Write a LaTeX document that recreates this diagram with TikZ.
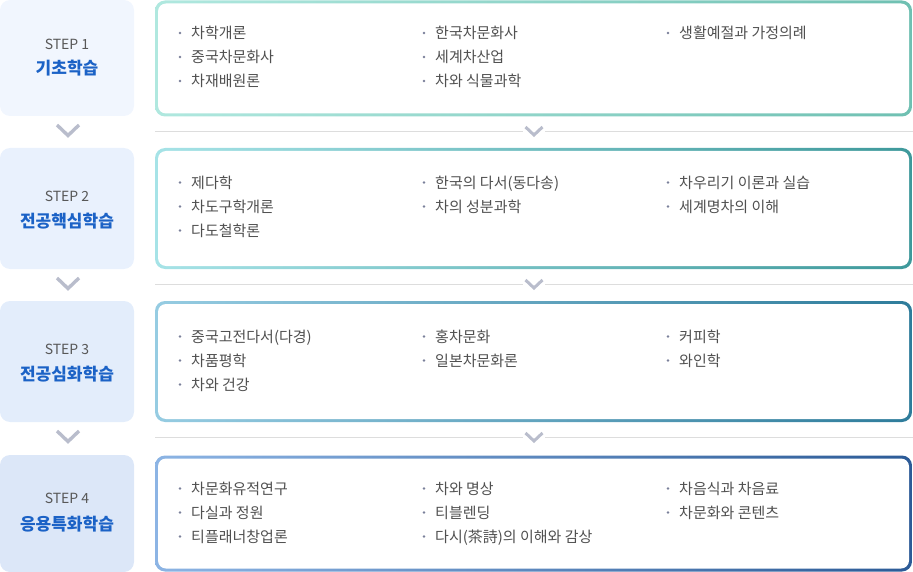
\documentclass[tikz,border=0pt]{standalone}
\usepackage{fontspec}
\setmainfont{Noto Sans CJK KR}
\definecolor{txt}{HTML}{505050}
\definecolor{steptxt}{HTML}{585858}
\definecolor{titleblue}{HTML}{1B62C6}
\definecolor{dotc}{HTML}{7A809A}
\definecolor{chevc}{HTML}{B9BDCC}
\definecolor{sepc}{HTML}{DDDDDD}
\definecolor{sfa}{HTML}{F1F6FE}
\definecolor{sfb}{HTML}{E9F1FD}
\definecolor{sfc}{HTML}{E3EDFB}
\definecolor{sfd}{HTML}{DCE7F8}
\definecolor{bal}{HTML}{B0E8DF}\definecolor{bar}{HTML}{6FC0B2}
\definecolor{bbl}{HTML}{A6E3E7}\definecolor{bbr}{HTML}{3E999B}
\definecolor{bcl}{HTML}{96CCE2}\definecolor{bcr}{HTML}{2E7C9B}
\definecolor{bdl}{HTML}{8CB4E4}\definecolor{bdr}{HTML}{2C5B97}
\begin{document}
\begin{tikzpicture}[x=1pt,y=-1pt,
  stepbox/.style={rounded corners=10pt, minimum width=134pt, inner sep=0pt, draw=none},
  outerbox/.style={rounded corners=10pt, minimum width=757pt, inner sep=0pt, draw=none},
  innerbox/.style={rounded corners=8pt, fill=white, minimum width=751pt, inner sep=0pt, draw=none},
  steplbl/.style={font=\fontsize{14}{16}\selectfont, text=steptxt, anchor=center},
  titlelbl/.style={font=\fontsize{17}{19}\selectfont\bfseries, text=titleblue, anchor=center},
  item/.style={font=\fontsize{15}{17}\selectfont, text=txt, anchor=base west, inner sep=0pt},
  bul/.style={circle, fill=dotc, inner sep=0pt, minimum size=2.6pt},
  chev/.style={draw=chevc, line width=3.4pt, line cap=butt, line join=miter},
  chevs/.style={draw=chevc, line width=3pt, line cap=butt, line join=miter},
  sep/.style={draw=sepc, line width=1pt}
]
\useasboundingbox (0,0) rectangle (913,572);

% ---------- left step boxes ----------
\node[stepbox, fill=sfa, minimum height=116pt] (s1) at (67,58) {};
\node[stepbox, fill=sfb, minimum height=121pt] (s2) at (67,208.5) {};
\node[stepbox, fill=sfc, minimum height=121pt] (s3) at (67,361.5) {};
\node[stepbox, fill=sfd, minimum height=117pt] (s4) at (67,513.5) {};

\node[steplbl] (l1a) at (67,44) {STEP 1};
\node[titlelbl] (l1b) at (67,68.5) {기초학습};
\node[steplbl] (l2a) at (67,196) {STEP 2};
\node[titlelbl] (l2b) at (67,221) {전공핵심학습};
\node[steplbl] (l3a) at (67,349) {STEP 3};
\node[titlelbl] (l3b) at (67,374) {전공심화학습};
\node[steplbl] (l4a) at (67,498.5) {STEP 4};
\node[titlelbl] (l4b) at (67,524) {응용특화학습};

% ---------- left chevrons ----------
\draw[chev] (57,125) -- (68,135.5) -- (79,125);
\draw[chev] (57,278) -- (68,288.5) -- (79,278);
\draw[chev] (57,431) -- (68,441.5) -- (79,431);

% ---------- separators with small chevrons ----------
\draw[sep] (155,131.5) -- (523,131.5);
\draw[sep] (545,131.5) -- (913,131.5);
\draw[chevs] (525.5,127) -- (534,135) -- (542.5,127);
\draw[sep] (155,284.5) -- (523,284.5);
\draw[sep] (545,284.5) -- (913,284.5);
\draw[chevs] (525.5,280) -- (534,288) -- (542.5,280);
\draw[sep] (155,437.5) -- (523,437.5);
\draw[sep] (545,437.5) -- (913,437.5);
\draw[chevs] (525.5,433) -- (534,441) -- (542.5,433);

% ---------- content boxes (gradient borders) ----------
\node[outerbox, left color=bal, right color=bar, minimum height=116pt] (c1o) at (533.5,58.5) {};
\node[innerbox, minimum height=110pt] (c1) at (c1o.center) {};
\node[outerbox, left color=bbl, right color=bbr, minimum height=121pt] (c2o) at (533.5,208.5) {};
\node[innerbox, minimum height=115pt] (c2) at (c2o.center) {};
\node[outerbox, left color=bcl, right color=bcr, minimum height=121pt] (c3o) at (533.5,361.5) {};
\node[innerbox, minimum height=115pt] (c3) at (c3o.center) {};
\node[outerbox, left color=bdl, right color=bdr, minimum height=116pt] (c4o) at (533.5,513.5) {};
\node[innerbox, minimum height=110pt] (c4) at (c4o.center) {};

% ---------- items ----------
\newcommand{\itm}[4]{%
  \node[bul] (#1d) at (#2-11,#3-0.5) {};
  \node[item] (#1) at (#2,#3+5.5) {#4};}

% step 1
\itm{a11}{191}{33.5}{차학개론}
\itm{a12}{191}{57.5}{중국차문화사}
\itm{a13}{191}{81.5}{차재배원론}
\itm{a21}{435}{33.5}{한국차문화사}
\itm{a22}{435}{57.5}{세계차산업}
\itm{a23}{435}{81.5}{차와 식물과학}
\itm{a31}{679}{33.5}{생활예절과 가정의례}
% step 2
\itm{b11}{191}{183}{제다학}
\itm{b12}{191}{207}{차도구학개론}
\itm{b13}{191}{231}{다도철학론}
\itm{b21}{435}{183}{한국의 다서(동다송)}
\itm{b22}{435}{207}{차의 성분과학}
\itm{b31}{679}{183}{차우리기 이론과 실습}
\itm{b32}{679}{207}{세계명차의 이해}
% step 3
\itm{c11}{191}{337}{중국고전다서(다경)}
\itm{c12}{191}{361}{차품평학}
\itm{c13}{191}{385}{차와 건강}
\itm{c21}{435}{337}{홍차문화}
\itm{c22}{435}{361}{일본차문화론}
\itm{c31}{679}{337}{커피학}
\itm{c32}{679}{361}{와인학}
% step 4
\itm{d11}{191}{489}{차문화유적연구}
\itm{d12}{191}{513}{다실과 정원}
\itm{d13}{191}{537}{티플래너창업론}
\itm{d21}{435}{489}{차와 명상}
\itm{d22}{435}{513}{티블렌딩}
\itm{d23}{435}{537}{다시(茶詩)의 이해와 감상}
\itm{d31}{679}{489}{차음식과 차음료}
\itm{d32}{679}{513}{차문화와 콘텐츠}
\end{tikzpicture}
\end{document}
